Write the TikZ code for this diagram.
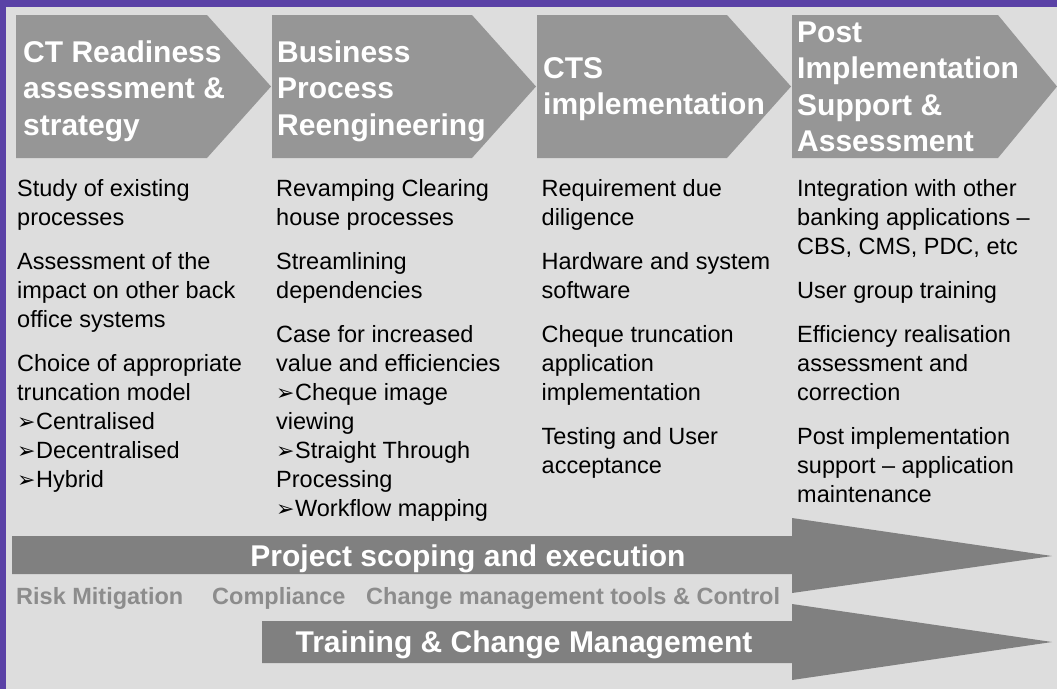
\documentclass[tikz,border=0pt]{standalone}
\usepackage{fontspec}
\setmainfont{Liberation Sans}
\newfontfamily\dingfont{DejaVu Sans}
\usetikzlibrary{calc}
\definecolor{slidebg}{HTML}{DDDDDD}
\definecolor{framepurple}{HTML}{5A41A6}
\definecolor{phasegray}{HTML}{969696}
\definecolor{bargray}{HTML}{808080}
\definecolor{notegray}{HTML}{8C8C8C}
\newcommand{\subarrow}{{\dingfont\fontsize{22}{22}\selectfont ➢}\hspace{0.5pt}}
\tikzset{
	phase/.style={
		fill=phasegray
	},
	phase title/.style={
		anchor=north west,
		inner sep=0pt,
		align=left,
		text=white,
		font=\bfseries\fontsize{30}{36.5}\selectfont
	},
	phase text/.style={
		anchor=north west,
		inner sep=0pt,
		align=left,
		font=\fontsize{23.5}{29}\selectfont
	},
	track/.style={
		fill=bargray
	},
	track label/.style={
		anchor=base,
		inner sep=0pt,
		text=white,
		font=\bfseries\fontsize{30}{36}\selectfont
	},
	aside/.style={
		anchor=base west,
		inner sep=0pt,
		text=notegray,
		font=\bfseries\fontsize{23.5}{28}\selectfont
	}
}
\begin{document}
\begin{tikzpicture}[x=1pt,y=-1pt]
	%%%%%%%% SLIDE AND FRAME
	\fill[slidebg] (0,0) rectangle (1057,689);
	\useasboundingbox (0,0) rectangle (1057,689);
	\fill[framepurple] (0,0) rectangle (1057,7);
	\fill[framepurple] (0,0) rectangle (6,689);
	%%%%%%%% PHASE ARROWS
	\def\ptop{15}
	\def\pbot{158}
	\foreach \x/\b/\t in {16/207/271, 272/472/536, 537/727/791, 792/998/1057} {
		\fill[phase] (\x,\ptop) -- (\b,\ptop) -- (\t,{(\ptop+\pbot)/2}) -- (\b,\pbot) -- (\x,\pbot) -- cycle;
	}
	\node[phase title] (readiness) at (23,40.5) {CT Readiness\\assessment \&\\strategy};
	\node[phase title] (reengineer) at (277,40.5) {Business\\Process\\Reengineering};
	\node[phase title] (cts) at (543,57) {CTS\\implementation};
	\node[phase title] (postimpl) at (797,21.5) {Post\\Implementation\\Support \&\\Assessment};
	%%%%%%%% PHASE CONTENTS
	\node[phase text] (readinesstext) at (17,179) {Study of existing\\processes\\[15pt]Assessment of the\\impact on other back\\office systems\\[15pt]Choice of appropriate\\truncation model\\\subarrow Centralised\\\subarrow Decentralised\\\subarrow Hybrid};
	\node[phase text] (reengineertext) at (276,179) {Revamping Clearing\\house processes\\[15pt]Streamlining\\dependencies\\[15pt]Case for increased\\value and efficiencies\\\subarrow Cheque image\\viewing\\\subarrow Straight Through\\Processing\\\subarrow Workflow mapping};
	\node[phase text] (ctstext) at (541.5,179) {Requirement due\\diligence\\[15pt]Hardware and system\\software\\[15pt]Cheque truncation\\application\\implementation\\[15pt]Testing and User\\acceptance};
	\node[phase text] (postimpltext) at (797,179) {Integration with other\\banking applications --\\CBS, CMS, PDC, etc\\[15pt]User group training\\[15pt]Efficiency realisation\\assessment and\\correction\\[15pt]Post implementation\\support -- application\\maintenance};
	%%%%%%%% RUNNING TRACKS
	\fill[track] (12,536) -- (792,536) -- (792,518) -- (1052,556) -- (792,593) -- (792,574) -- (12,574) -- cycle;
	\fill[track] (262,621) -- (792,621) -- (792,604) -- (1052,642) -- (792,680) -- (792,663) -- (262,663) -- cycle;
	\node[track label] (scoping) at (468,566) {Project scoping and execution};
	\node[track label] (training) at (524,652.5) {Training \& Change Management};
	\node[aside] (risk) at (16,604) {Risk Mitigation};
	\node[aside] (compliance) at (212,604) {Compliance};
	\node[aside] (changetools) at (366,604) {Change management tools \& Control};
\end{tikzpicture}
\end{document}
